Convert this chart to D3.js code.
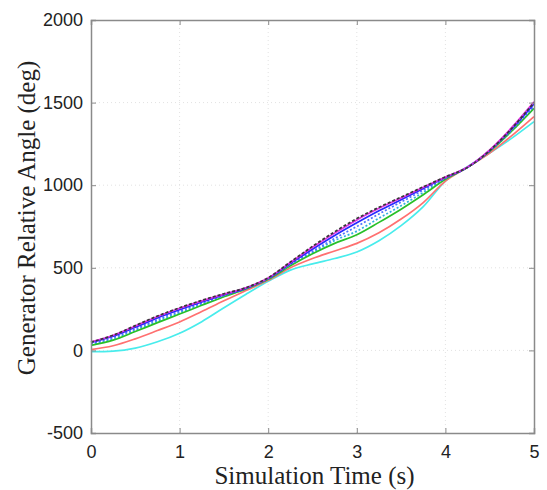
<!DOCTYPE html>
<html>
<head>
<meta charset="utf-8">
<script src="https://cdn.jsdelivr.net/npm/d3@7"></script>
<style>
  body { margin: 0; background: #fff; }
  .tick text { font-family: "Liberation Sans", Arial, sans-serif; font-size: 18px; fill: #222; }
  .label { font-family: "Liberation Serif", "Times New Roman", serif; font-size: 25px; fill: #222; }
</style>
</head>
<body>
<div id="chart"></div>
<script>
// time samples (s)
const times = [0, 0.25, 0.5, 0.75, 1, 1.25, 1.5, 1.75, 2, 2.25, 2.5, 2.75, 3, 3.25, 3.5, 3.75, 4, 4.25, 4.5, 4.75, 5];

// generator relative angles (deg)
const black   = [50, 92, 150, 208, 258, 303, 343, 380, 440, 535, 630, 718, 798, 866, 928, 990, 1050, 1108, 1210, 1345, 1500];
const magenta = [52, 92, 148, 205, 255, 300, 341, 379, 438, 532, 624, 710, 790, 860, 923, 987, 1049, 1110, 1214, 1350, 1505];
const blue    = [48, 86, 140, 196, 246, 293, 336, 377, 436, 526, 612, 695, 772, 845, 912, 980, 1046, 1109, 1210, 1342, 1492];
const blueDot = [42, 78, 130, 186, 237, 286, 332, 375, 434, 520, 600, 678, 750, 826, 898, 970, 1042, 1108, 1208, 1335, 1478];
const cyanDot = [36, 70, 122, 177, 228, 279, 328, 374, 432, 516, 592, 665, 722, 800, 876, 956, 1040, 1108, 1206, 1330, 1470];
const green   = [30, 62, 114, 168, 220, 273, 325, 372, 430, 512, 585, 648, 700, 775, 855, 942, 1036, 1108, 1205, 1328, 1465];
const red     = [5, 28, 70, 120, 172, 235, 300, 362, 424, 500, 556, 602, 648, 712, 795, 895, 1025, 1108, 1195, 1300, 1415];
const cyan    = [-8, -4, 14, 52, 104, 174, 258, 340, 418, 486, 524, 556, 596, 664, 755, 870, 1025, 1112, 1195, 1285, 1385];

const xTicks = [0, 1, 2, 3, 4, 5];
const yTicks = [-500, 0, 500, 1000, 1500, 2000];

const series = [
  { values: cyan,    color: "#48ecec", dash: null },
  { values: red,     color: "#ff7070", dash: null },
  { values: cyanDot, color: "#30b0e0", dash: "2,2" },
  { values: green,   color: "#28c028", dash: null },
  { values: blueDot, color: "#5070ff", dash: "2,2" },
  { values: blue,    color: "#2828ff", dash: null },
  { values: magenta, color: "#e030e0", dash: null },
  { values: black,   color: "#383838", dash: "3,2" }
];

const W = 547, H = 490;
const margin = { top: 20, right: 13, bottom: 57, left: 91 };
const width = W - margin.left - margin.right;
const height = H - margin.top - margin.bottom;

const svg = d3.select("#chart").append("svg")
  .attr("width", W).attr("height", H);
const g = svg.append("g")
  .attr("transform", "translate(" + margin.left + "," + margin.top + ")");

const x = d3.scaleLinear().domain([0, 5]).range([0, width]);
const y = d3.scaleLinear().domain([-500, 2000]).range([height, 0]);

// grid
g.append("g").selectAll("line").data(xTicks.slice(1, -1)).enter().append("line")
  .attr("x1", d => x(d)).attr("x2", d => x(d)).attr("y1", 0).attr("y2", height)
  .attr("stroke", "#e2e2e2").attr("stroke-dasharray", "1,3");
g.append("g").selectAll("line").data(yTicks.slice(1, -1)).enter().append("line")
  .attr("y1", d => y(d)).attr("y2", d => y(d)).attr("x1", 0).attr("x2", width)
  .attr("stroke", "#e2e2e2").attr("stroke-dasharray", "1,3");

// lines
const line = d3.line()
  .x((d, i) => x(times[i]))
  .y(d => y(d))
  .curve(d3.curveMonotoneX);

series.forEach(s => {
  g.append("path")
    .datum(s.values)
    .attr("fill", "none")
    .attr("stroke", s.color)
    .attr("stroke-width", 1.7)
    .attr("stroke-dasharray", s.dash)
    .attr("d", line);
});

// axes
const axisColor = "#8a8a8a";
const fmt = d => String(d);
g.append("g").attr("transform", "translate(0," + height + ")")
  .call(d3.axisBottom(x).tickValues(xTicks).tickSize(-5).tickPadding(12).tickFormat(fmt));
g.append("g")
  .call(d3.axisLeft(y).tickValues(yTicks).tickSize(-5).tickPadding(8).tickFormat(fmt));
g.append("g").call(d3.axisTop(x).tickValues(xTicks).tickSize(-5).tickFormat(""));
g.append("g").attr("transform", "translate(" + width + ",0)")
  .call(d3.axisRight(y).tickValues(yTicks).tickSize(-5).tickFormat(""));

g.selectAll(".domain").attr("stroke", axisColor).attr("stroke-width", 1.5);
g.selectAll(".tick line").attr("stroke", axisColor);

// labels
svg.append("text").attr("class", "label")
  .attr("x", margin.left + width / 2 + 2).attr("y", 484)
  .attr("text-anchor", "middle")
  .text("Simulation Time (s)");
svg.append("text").attr("class", "label")
  .attr("transform", "translate(35,218) rotate(-90)")
  .attr("text-anchor", "middle")
  .text("Generator Relative Angle (deg)");
</script>
</body>
</html>
